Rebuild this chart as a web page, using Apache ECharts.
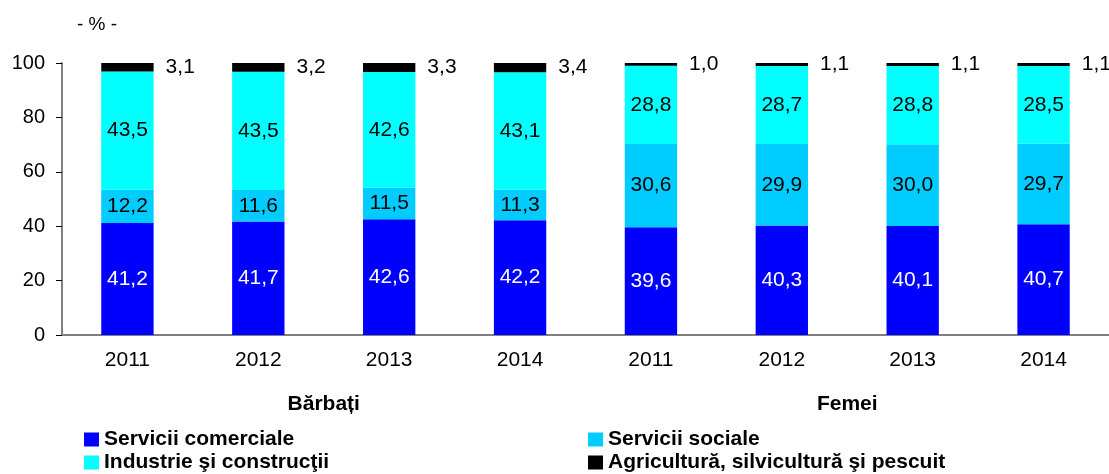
<!DOCTYPE html>
<html>
<head>
<meta charset="utf-8">
<script src="https://cdn.jsdelivr.net/npm/echarts@6/dist/echarts.min.js"></script>
<style>
	html, body { margin: 0; padding: 0; background: #fff; }
	#chart { width: 1109px; height: 474px; }
</style>
</head>
<body>
<div id="chart"></div>
<script>
	// date
	const years = ['2011', '2012', '2013', '2014', '2011', '2012', '2013', '2014']
	const groups = ['Bărbați', 'Femei']
	const comerciale = [41.2, 41.7, 42.6, 42.2, 39.6, 40.3, 40.1, 40.7]
	const sociale = [12.2, 11.6, 11.5, 11.3, 30.6, 29.9, 30.0, 29.7]
	const industrie = [43.5, 43.5, 42.6, 43.1, 28.8, 28.7, 28.8, 28.5]
	const agricultura = [3.1, 3.2, 3.3, 3.4, 1.0, 1.1, 1.1, 1.1]

	const font = 'Arial, "Liberation Sans", sans-serif'
	const fmt = p => p.value.toFixed(1).replace('.', ',')

	const inside = (color) => ({
		show: true,
		position: 'inside',
		color: color,
		fontSize: 21,
		fontFamily: font,
		formatter: fmt
	})

	const legendText = { fontSize: 21, fontWeight: 'bold', color: '#000', fontFamily: font }

	let myChart = echarts.init(document.getElementById('chart'))

	const option = {
		animation: false,
		title: {
			text: '- % -',
			left: 72,
			top: 10,
			textStyle: { fontSize: 19, fontWeight: 'normal', color: '#000', fontFamily: font }
		},
		legend: [{
			data: ['Servicii comerciale', 'Industrie şi construcţii'],
			orient: 'vertical',
			left: 84,
			top: 429,
			padding: 0,
			icon: 'rect',
			itemWidth: 15,
			itemHeight: 14,
			itemGap: 2,
			textStyle: legendText
		}, {
			data: ['Servicii sociale', 'Agricultură, silvicultură şi pescuit'],
			orient: 'vertical',
			left: 588,
			top: 429,
			padding: 0,
			icon: 'rect',
			itemWidth: 15,
			itemHeight: 14,
			itemGap: 2,
			textStyle: legendText
		}],
		grid: {
			left: 62,
			top: 63,
			width: 1047,
			height: 272
		},
		xAxis: [{
			type: 'category',
			data: years,
			axisLine: { lineStyle: { color: '#808080', width: 2 } },
			axisTick: { length: 6, lineStyle: { color: '#000' } },
			axisLabel: { fontSize: 21, color: '#000', fontFamily: font, margin: 15 }
		}, {
			type: 'category',
			data: groups,
			position: 'bottom',
			offset: 52,
			axisLine: { show: false },
			axisTick: { show: false },
			axisLabel: { fontSize: 21, fontWeight: 'bold', color: '#000', fontFamily: font, margin: 7 }
		}],
		yAxis: {
			type: 'value',
			min: 0,
			max: 100,
			interval: 20,
			axisLine: { show: true, lineStyle: { color: '#808080', width: 2 } },
			axisTick: { show: true, length: 6, lineStyle: { color: '#000' } },
			splitLine: { show: false },
			axisLabel: { fontSize: 20, color: '#000', fontFamily: font, margin: 17 }
		},
		series: [{
			name: 'Servicii comerciale',
			type: 'bar',
			stack: 'total',
			barWidth: '40%',
			itemStyle: { color: '#0000FF' },
			label: inside('#fff'),
			data: comerciale
		}, {
			name: 'Servicii sociale',
			type: 'bar',
			stack: 'total',
			itemStyle: { color: '#00CCFF' },
			label: inside('#000'),
			data: sociale
		}, {
			name: 'Industrie şi construcţii',
			type: 'bar',
			stack: 'total',
			itemStyle: { color: '#00FFFF' },
			label: inside('#000'),
			data: industrie
		}, {
			name: 'Agricultură, silvicultură şi pescuit',
			type: 'bar',
			stack: 'total',
			itemStyle: { color: '#000000' },
			label: {
				show: true,
				position: 'right',
				distance: 12,
				color: '#000',
				fontSize: 21,
				fontFamily: font,
				formatter: fmt
			},
			data: agricultura
		}]
	}

	myChart.setOption(option)
</script>
</body>
</html>
